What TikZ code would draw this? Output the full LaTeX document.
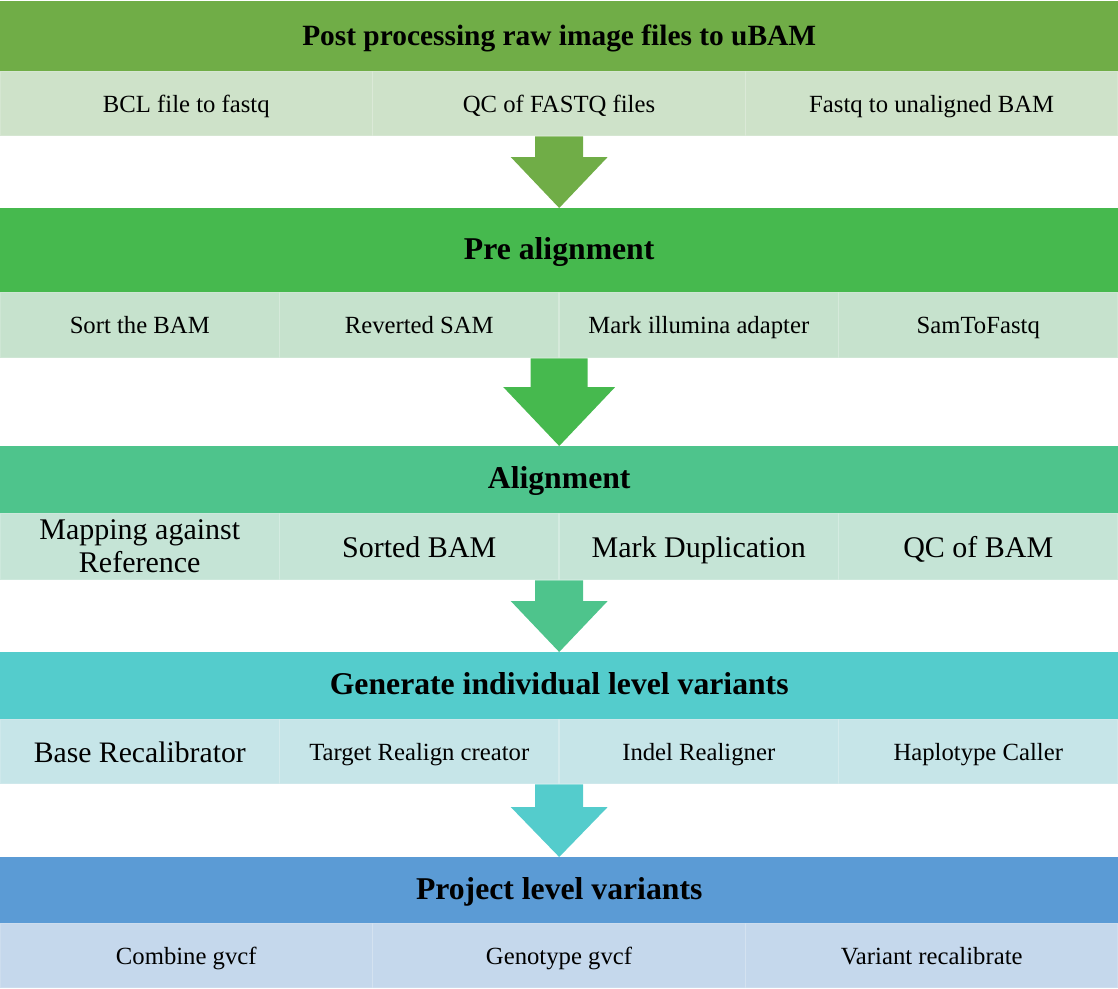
\documentclass[tikz,border=0pt]{standalone}
\usepackage{fontspec}
\setmainfont{Liberation Serif}
\usetikzlibrary{calc}
\definecolor{hdgreen}{RGB}{112,173,71}
\definecolor{hdleaf}{RGB}{70,185,78}
\definecolor{hdmint}{RGB}{78,196,140}
\definecolor{hdteal}{RGB}{84,204,204}
\definecolor{hdblue}{RGB}{91,155,213}
\definecolor{lgreen}{RGB}{206,226,201}
\definecolor{lleaf}{RGB}{198,226,205}
\definecolor{lmint}{RGB}{197,228,214}
\definecolor{lteal}{RGB}{198,229,232}
\definecolor{lblue}{RGB}{197,216,236}

% block arrow: from, to, colour, half shaft, half head, head length
\newcommand{\stagearrow}[6]{%
  \fill[#3] let \p1=(#1.south), \p2=(#2.north) in
    (\x1-#4,\y1) -- (\x1+#4,\y1) -- (\x1+#4,\y2+#6) -- (\x1+#5,\y2+#6)
    -- (\x2,\y2) -- (\x1-#5,\y2+#6) -- (\x1-#4,\y2+#6) -- cycle;}

\begin{document}
\begin{tikzpicture}[x=1pt, y=-1pt,
    head/.style={anchor=north west, inner sep=0pt, minimum width=1118pt,
                 text height=20pt, text depth=2pt,
                 font=\fontsize{31.7}{34}\selectfont\bfseries},
    row/.style={anchor=north west, inner sep=0pt, minimum width=1118pt},
    cell/.style={inner sep=0pt, align=center, font=\fontsize{24.7}{27}\selectfont,
                 text height=18pt, text depth=1pt,
                 draw=white, draw opacity=0.15, line width=1.5pt},
    big/.style={font=\fontsize{30}{33}\selectfont, text height=22pt, text depth=1pt},
    third/.style={cell, minimum width=372.67pt},
    quarter/.style={cell, minimum width=279.5pt}
  ]
    \useasboundingbox (0,0) rectangle (1118,988);
    % Post processing
    \node[row, fill=lgreen, minimum height=65pt] (row1) at (0,71) {};
    \node[third, minimum height=65pt] (bcl) at (186.3,103.5) {BCL file to fastq};
    \node[third, minimum height=65pt] (qcfq) at (559,103.5) {QC of FASTQ files};
    \node[third, minimum height=65pt] (ubam) at (931.7,103.5) {Fastq to unaligned BAM};
    \node[head, fill=hdgreen, minimum height=70pt, font=\fontsize{29.4}{32}\selectfont\bfseries]
      (hd1) at (0,1) {Post processing raw image files to uBAM};
    % Pre alignment
    \node[row, fill=lleaf, minimum height=66pt] (row2) at (0,292) {};
    \node[quarter, minimum height=66pt] (sort) at (139.75,325) {Sort the BAM};
    \node[quarter, minimum height=66pt] (revert) at (419.25,325) {Reverted SAM};
    \node[quarter, minimum height=66pt] (adapt) at (698.75,325) {Mark illumina adapter};
    \node[quarter, minimum height=66pt] (s2f) at (978.25,325) {SamToFastq};
    \node[head, fill=hdleaf, minimum height=84pt] (hd2) at (0,208) {Pre alignment};
    % Alignment
    \node[row, fill=lmint, minimum height=67pt] (row3) at (0,513) {};
    \node[quarter, big, minimum height=67pt, text height={}, text depth={}] (map) at (139.75,546.5) {Mapping against\\Reference};
    \node[quarter, big, minimum height=67pt] (sorted) at (419.25,546.5) {Sorted BAM};
    \node[quarter, big, minimum height=67pt] (dup) at (698.75,546.5) {Mark Duplication};
    \node[quarter, big, minimum height=67pt] (qcbam) at (978.25,546.5) {QC of BAM};
    \node[head, fill=hdmint, minimum height=67pt] (hd3) at (0,446) {Alignment};
    % Individual level
    \node[row, fill=lteal, minimum height=65pt] (row4) at (0,719) {};
    \node[quarter, big, minimum height=65pt, font=\fontsize{29.7}{32}\selectfont] (recal) at (139.75,751.5) {Base Recalibrator};
    \node[quarter, minimum height=65pt] (target) at (419.25,751.5) {Target Realign creator};
    \node[quarter, minimum height=65pt] (indel) at (698.75,751.5) {Indel Realigner};
    \node[quarter, minimum height=65pt] (haplo) at (978.25,751.5) {Haplotype Caller};
    \node[head, fill=hdteal, minimum height=67pt] (hd4) at (0,652) {Generate individual level variants};
    % Project level
    \node[row, fill=lblue, minimum height=65pt] (row5) at (0,923) {};
    \node[third, minimum height=65pt] (combine) at (186.3,955.5) {Combine gvcf};
    \node[third, minimum height=65pt] (genotype) at (559,955.5) {Genotype gvcf};
    \node[third, minimum height=65pt] (vqsr) at (931.7,955.5) {Variant recalibrate};
    \node[head, fill=hdblue, minimum height=66pt] (hd5) at (0,857) {Project level variants};
    % Arrows
    \stagearrow{row1}{hd2}{hdgreen}{24pt}{48.5pt}{51pt}
    \stagearrow{row2}{hd3}{hdleaf}{28.5pt}{56pt}{59pt}
    \stagearrow{row3}{hd4}{hdmint}{24pt}{48.5pt}{51pt}
    \stagearrow{row4}{hd5}{hdteal}{24pt}{48.5pt}{50pt}
  \end{tikzpicture}
\end{document}
